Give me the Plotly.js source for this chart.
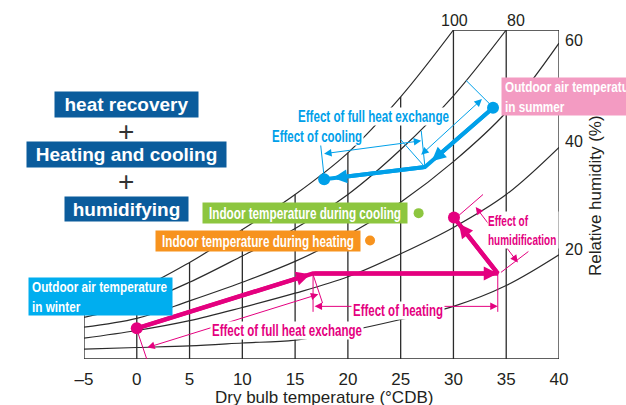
<!DOCTYPE html>
<html><head><meta charset="utf-8">
<script src="https://cdn.plot.ly/plotly-3.0.1.min.js"></script>
<style>html,body{margin:0;padding:0;background:#fff}#chart{width:626px;height:405px}</style>
</head><body><div id="chart"></div>
<script>
// ---------- data ----------
const tempC = [-5, 0, 5, 10, 15, 20, 25, 30, 35, 40];
const tickText = ['–5', '0', '5', '10', '15', '20', '25', '30', '35', '40'];
const yTop = 30;
// relative humidity curves (absolute-humidity scale, arbitrary units), one value per tempC
const rh100 = [4.8, 6.3, 8.8, 11.8, 15.0, 18.8, 23.9, 30.0];
const rh80 = [3.8, 5.0, 7.0, 9.4, 11.9, 15.0, 19.1, 24.0, 30.0];
const rh60 = [2.9, 3.7, 5.3, 7.0, 8.9, 11.3, 14.3, 18.0, 22.5, 28.8];
const rh40 = [1.9, 2.6, 3.5, 4.7, 6.0, 7.5, 9.6, 12.0, 15.0, 19.3];
const rh20 = [0.9, 1.05, 1.2, 1.46, 1.73, 2.55, 3.6, 4.8, 6.7, 9.5];
const rhCurves = [rh100, rh80, rh60, rh40, rh20];

// winter process: outdoor -> after heat exchange -> after heating -> after humidification
const winterT = [0, 16.7, 34.2, 30.05];
const winterY = [2.8, 7.8, 7.8, 12.9];
// summer process: outdoor -> after heat exchange -> after cooling
const summerT = [33.75, 27.3, 17.75];
const summerY = [22.9, 17.5, 16.4];
const indoorCoolT = [26.7], indoorCoolY = [13.3];
const indoorHeatT = [22.1], indoorHeatY = [10.8];

// dimension (extension) lines
const pinkExtT = [[0.1, 1.05], [16.7, 17.6], [16.7, 16.7], [34.2, 34.2], [30.4, 32.8], [34.5, 37.1]];
const pinkExtY = [[2.4, -0.3], [7.7, 5.1], [7.7, 4.3], [7.7, 4.3], [13.0, 15.0], [7.9, 9.8]];
const pinkDimT = [[0.85, 17.2], [16.7, 34.2], [32.0, 36.1]];
const pinkDimY = [[1.0, 5.9], [4.8, 4.8], [14.0, 8.8]];
const cyanExtT = [[33.6, 31.2], [27.3, 25.0], [17.75, 17.4], [27.3, 26.95]];
const cyanExtY = [[23.1, 25.4], [17.5, 20.0], [16.6, 19.7], [17.5, 20.8]];
const cyanDimT = [[26.8, 32.7], [17.6, 26.95]];
const cyanDimY = [[18.5, 23.7], [18.7, 19.9]];

// ---------- styles ----------
const INK = '#2b2b2b', PINK = '#e4007f', CYAN = '#00a0e9';
const NUM = 'Liberation Sans, Arial, sans-serif';

const traces = [];
const vx = [], vy = [];
tempC.forEach((t, i) => {
  const top = i < rh100.length ? rh100[i] : yTop;
  vx.push(t, t, null); vy.push(0, top, null);
});
traces.push({x: vx, y: vy, mode: 'lines', line: {color: INK, width: 1.3}, hoverinfo: 'skip'});
traces.push({x: [tempC[0], tempC[tempC.length - 1]], y: [0, 0], mode: 'lines', line: {color: INK, width: 1.4}, hoverinfo: 'skip'});
traces.push({x: [tempC[rh100.length - 1], tempC[tempC.length - 1]], y: [yTop, yTop], mode: 'lines', line: {color: INK, width: 1.3}, hoverinfo: 'skip'});
rhCurves.forEach(c => traces.push({x: tempC.slice(0, c.length), y: c, mode: 'lines', line: {color: INK, width: 1.2, shape: 'spline', smoothing: 1}, hoverinfo: 'skip'}));
function addLines(ts, ys, color) {
  ts.forEach((t, i) => traces.push({x: t, y: ys[i], mode: 'lines', line: {color: color, width: 1}, hoverinfo: 'skip'}));
}
addLines(pinkExtT, pinkExtY, PINK);
addLines(cyanExtT, cyanExtY, CYAN);
traces.push({x: winterT, y: winterY, mode: 'lines', line: {color: PINK, width: 4.5}, hoverinfo: 'skip'});
traces.push({x: summerT, y: summerY, mode: 'lines', line: {color: CYAN, width: 4}, hoverinfo: 'skip'});
traces.push({x: [winterT[0], winterT[3]], y: [winterY[0], winterY[3]], mode: 'markers', marker: {color: PINK, size: 12}, hoverinfo: 'skip'});
traces.push({x: [summerT[0], summerT[2]], y: [summerY[0], summerY[2]], mode: 'markers', marker: {color: CYAN, size: 12}, hoverinfo: 'skip'});
traces.push({x: indoorCoolT, y: indoorCoolY, mode: 'markers', marker: {color: '#8dc63f', size: 10}, hoverinfo: 'skip'});
traces.push({x: indoorHeatT, y: indoorHeatY, mode: 'markers', marker: {color: '#f7931e', size: 10}, hoverinfo: 'skip'});

const ann = [];
function heavyArrow(t0, y0, t1, y1, color, standoff) {
  ann.push({x: t1, y: y1, ax: t0, ay: y0, xref: 'x', yref: 'y', axref: 'x', ayref: 'y', text: '', showarrow: true,
    arrowhead: 2, arrowsize: 0.7, arrowwidth: 4, arrowcolor: color, standoff: standoff});
}
for (let i = 0; i < 3; i++) heavyArrow(winterT[i], winterY[i], winterT[i + 1], winterY[i + 1], PINK, [3, 0, 8][i]);
for (let i = 0; i < 2; i++) heavyArrow(summerT[i], summerY[i], summerT[i + 1], summerY[i + 1], CYAN, [9, 9][i]);
function dimArrow(ts, ys, color) {
  ann.push({x: ts[1], y: ys[1], ax: ts[0], ay: ys[0], xref: 'x', yref: 'y', axref: 'x', ayref: 'y', text: '', showarrow: true,
    arrowhead: 2, startarrowhead: 2, arrowside: 'end+start', arrowsize: 1.5, startarrowsize: 1.5, arrowwidth: 1, arrowcolor: color});
}
pinkDimT.forEach((t, i) => dimArrow(t, pinkDimY[i], PINK));
cyanDimT.forEach((t, i) => dimArrow(t, cyanDimY[i], CYAN));

const condense = {}; // annotation index -> target width (px) of first line
function label(x, y, text, o, target) {
  ann.push(Object.assign({xref: 'paper', yref: 'paper', x: x, y: y, text: text, showarrow: false,
    xanchor: 'center', yanchor: 'middle'}, o));
  if (target) condense[ann.length - 1] = target;
}
const boxFont = {family: NUM, size: 19, color: '#ffffff', weight: 'bold'};
label(0.0895, 0.7736, 'heat recovery', {font: boxFont, bgcolor: '#0b5c9c', width: 143, height: 25, borderpad: 0});
label(0.0884, 0.693, '+', {font: {family: NUM, size: 28, color: '#333'}});
label(0.0895, 0.6216, 'Heating and cooling', {font: boxFont, bgcolor: '#0b5c9c', width: 199, height: 25, borderpad: 0});
label(0.0884, 0.538, '+', {font: {family: NUM, size: 28, color: '#333'}});
label(0.0895, 0.4574, 'humidifying', {font: boxFont, bgcolor: '#0b5c9c', width: 123, height: 24, borderpad: 0});

const wFont = {family: NUM, size: 16, color: '#ffffff', weight: 'bold'};
const wFont2 = {family: NUM, size: 15, color: '#ffffff', weight: 'bold'};
label(0.4653, 0.4438, 'Indoor temperature during cooling', {font: wFont, bgcolor: '#8dc63f', width: 204, height: 20, borderpad: 0}, 192);
label(0.3663, 0.3587, 'Indoor temperature during heating', {font: wFont, bgcolor: '#f7931e', width: 204, height: 20, borderpad: 0}, 192);
label(0.0347, 0.19, 'Outdoor air temperature<br>in winter', {font: wFont2, bgcolor: '#00aeef', width: 137, height: 31, borderpad: 3, align: 'left'}, 135);
label(0.8779, 0.7964, 'Outdoor air temperature<br>in summer', {font: wFont2, bgcolor: '#f39bc2', width: 160, height: 31, borderpad: 3, align: 'left', xanchor: 'left'}, 135);

const pFont = {family: NUM, size: 16, color: PINK, weight: 'bold'};
const pFont2 = {family: NUM, size: 15, color: PINK, weight: 'bold'};
const cFont = {family: NUM, size: 16, color: CYAN, weight: 'bold'};
label(0.4274, 0.0866, 'Effect of full heat exchange', {font: pFont, bgcolor: '#fff', borderpad: 0, width: 152, height: 17}, 150);
label(0.661, 0.1474, 'Effect of heating', {font: pFont, bgcolor: '#fff', borderpad: 0, width: 92, height: 17}, 90);
label(0.8484, 0.392, 'Effect of<br>humidification', {font: pFont2, bgcolor: '#fff', borderpad: 0, align: 'left', xanchor: 'left', width: 70, height: 36}, 40);
label(0.6095, 0.737, 'Effect of full heat exchange', {font: cFont, bgcolor: '#fff', borderpad: 0, width: 153, height: 17}, 151);
label(0.4905, 0.6763, 'Effect of cooling', {font: cFont, bgcolor: '#fff', borderpad: 0, width: 92, height: 17}, 90);

const nFont = {family: NUM, size: 16, color: '#231f20'};
const tFont = {family: NUM, size: 17, color: '#231f20'};
label(0.781, 1.0274, '100', {font: nFont});
label(0.9095, 1.0274, '80', {font: nFont});
label(1.0084, 0.9696, '60', {font: nFont, xanchor: 'left'});
label(1.0084, 0.6596, '40', {font: nFont, xanchor: 'left'});
label(1.0084, 0.3343, '20', {font: nFont, xanchor: 'left'});
label(1.0758, 0.4954, 'Relative humidity (%)', {font: tFont, textangle: -90});
label(0.5053, -0.1185, 'Dry bulb temperature (°CDB)', {font: tFont});

const layout = {
  width: 626, height: 405,
  margin: {l: 84, r: 67, t: 30, b: 46},
  paper_bgcolor: '#fff', plot_bgcolor: '#fff',
  showlegend: false,
  xaxis: {range: [-5, 40], showgrid: false, zeroline: false, showline: false, ticks: '', ticklabelstandoff: 8,
    tickmode: 'array', tickvals: tempC, ticktext: tickText, tickfont: tFont, fixedrange: true},
  yaxis: {range: [0, yTop], visible: false, fixedrange: true},
  annotations: ann
};
Plotly.newPlot('chart', traces, layout, {displayModeBar: false, staticPlot: true}).then(gd => {
  // condense the narrow bold labels to the widths they have in the reference
  gd.querySelectorAll('g.annotation').forEach(g => {
    const idx = +g.getAttribute('data-index');
    const target = condense[idx];
    if (!target) return;
    const text = g.querySelector('text.annotation-text');
    if (!text) return;
    const lines = text.querySelectorAll('tspan.line');
    if (lines.length) {
      const f = target / lines[0].getComputedTextLength();
      lines.forEach(l => {
        l.setAttribute('textLength', (l.getComputedTextLength() * f).toFixed(1));
        l.setAttribute('lengthAdjust', 'spacingAndGlyphs');
      });
    } else {
      text.setAttribute('textLength', target);
      text.setAttribute('lengthAdjust', 'spacingAndGlyphs');
    }
  });
});
</script></body></html>
